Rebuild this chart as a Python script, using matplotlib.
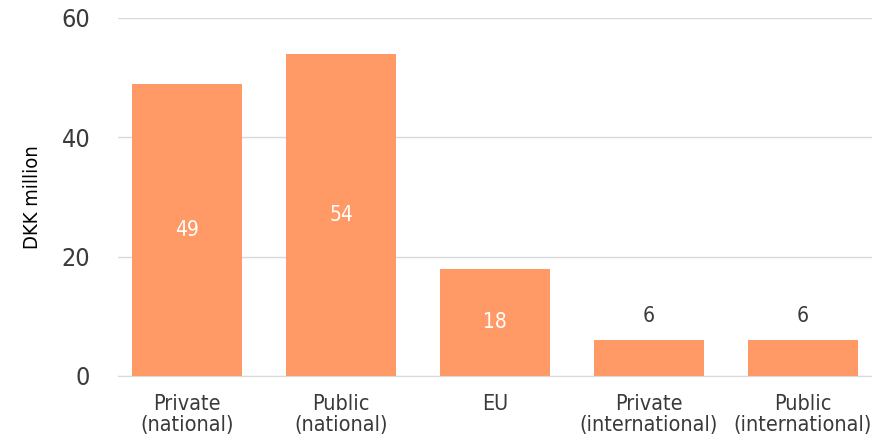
import matplotlib as mpl
import matplotlib.pyplot as plt

BAR_COLOR = "#FF9966"
TEXT_COLOR = "#3a3a3a"
GRID_COLOR = "#d9d9d9"

mpl.rcParams['font.family'] = ['DejaVu Sans']
mpl.rcParams['font.stretch'] = 'condensed'
mpl.rcParams['text.color'] = TEXT_COLOR
mpl.rcParams['xtick.color'] = TEXT_COLOR
mpl.rcParams['ytick.color'] = TEXT_COLOR

categories = ["Private\n(national)", "Public\n(national)", "EU",
              "Private\n(international)", "Public\n(international)"]
values = [49, 54, 18, 6, 6]
yticks = [0, 20, 40, 60]

fig = plt.figure(figsize=(8.72, 4.41), dpi=100)
ax = fig.add_axes([0.1353, 0.1474, 0.8647, 0.8118])

x = range(len(categories))
bars = ax.bar(x, values, width=0.714, color=BAR_COLOR, zorder=2)

for i, v in enumerate(values):
    if v > 10:
        ax.text(i, v / 2, str(v), ha='center', va='center',
                color='white', fontsize=15)
    else:
        ax.text(i, v + 4, str(v), ha='center', va='center',
                color=TEXT_COLOR, fontsize=15)

ax.set_xlim(-0.45, 4.45)
ax.set_ylim(0, 60)
ax.set_yticks(yticks)
ax.set_xticks(list(x))
ax.set_xticklabels(categories, fontsize=15.5, linespacing=1.08)
ax.tick_params(axis='y', length=0, pad=20, labelsize=18)
ax.tick_params(axis='x', length=0, pad=13)
ax.yaxis.grid(True, color=GRID_COLOR, linewidth=1, zorder=0)
ax.set_axisbelow(True)

for side in ["left", "top", "right"]:
    ax.spines[side].set_visible(False)
ax.spines["bottom"].set_color(GRID_COLOR)

ax.set_ylabel("DKK million", fontsize=14.5, labelpad=14)

fig.savefig("out.png", dpi=100)
